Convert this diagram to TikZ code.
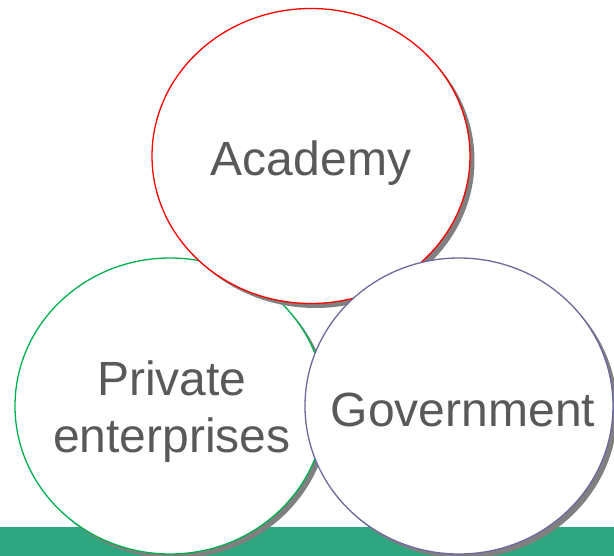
\documentclass[tikz,border=0pt]{standalone}
\usepackage{fontspec}
\setmainfont{Liberation Sans}
\usetikzlibrary{shapes.geometric,shadows}

\definecolor{textgray}{HTML}{595959}
\definecolor{shadowgray}{HTML}{808080}
\definecolor{barteal}{RGB}{46,166,128}
\definecolor{academyred}{HTML}{FF0000}
\definecolor{privategreen}{HTML}{00B050}
\definecolor{govpurple}{HTML}{6A6AA0}

\begin{document}
\begin{tikzpicture}[x=1pt, y=-1pt,
  bubble/.style={ellipse, fill=white, line width=1.3pt, inner sep=0pt,
    drop shadow={shadow xshift=4.5pt, shadow yshift=-4.5pt,
      fill=shadowgray, opacity=1}},
  word/.style={text=textgray, align=center, inner sep=0pt,
    font=\fontsize{48}{57}\selectfont}]

\useasboundingbox (0,0) rectangle (614,556);

% bar along the bottom
\fill[barteal] (0,527) rectangle (614,556);

% the three spheres, back to front
\node[bubble, draw=privategreen, minimum width=310pt, minimum height=296pt,
  label={[word, name=privatetext, xshift=2pt, yshift=-6pt]center:Private\\enterprises}]
  (private) at (170,406) {};
\node[bubble, draw=academyred, minimum width=318pt, minimum height=295pt,
  label={[word, name=academytext, yshift=-7pt]center:Academy}]
  (academy) at (311,156) {};
\node[bubble, draw=govpurple, minimum width=308pt, minimum height=296pt,
  label={[word, name=governmenttext, xshift=4pt, yshift=-4pt]center:Government}]
  (government) at (459,406) {};

\end{tikzpicture}
\end{document}
